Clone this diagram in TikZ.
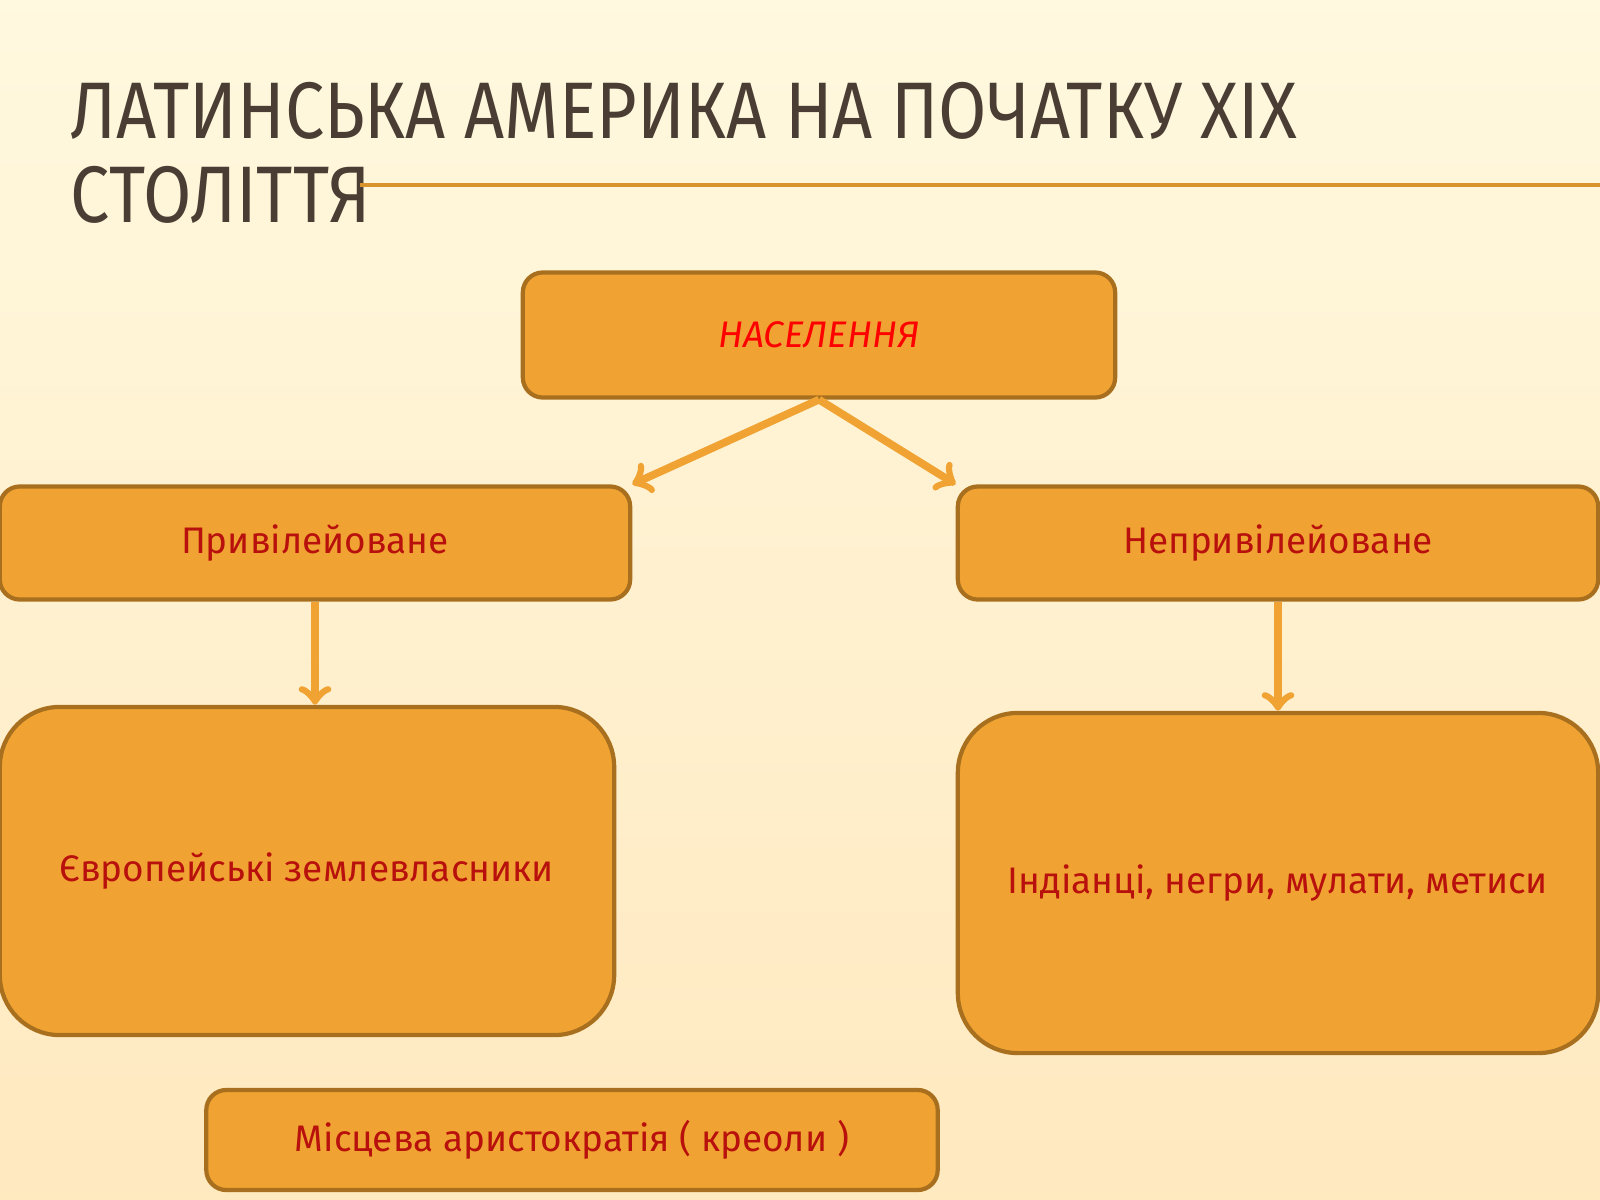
\documentclass[tikz,border=0pt]{standalone}
\usepackage{fontspec}
\setmainfont{Fira Sans}
\usetikzlibrary{positioning}
\definecolor{boxfill}{HTML}{F0A332}
\definecolor{boxedge}{HTML}{A8701E}
\definecolor{boxtext}{HTML}{B8100C}
\definecolor{titletext}{HTML}{4A3E34}
\tikzstyle{group} = [rectangle, rounded corners=0.2cm, fill=boxfill, draw=boxedge, line width=1.2pt, text centered, text=boxtext, font=\fontsize{10.5}{13}\selectfont]
\tikzstyle{bigbox} = [group, rounded corners=0.6cm]
\tikzstyle{heading} = [anchor=base west, text=titletext, font=\fontsize{24}{24}\selectfont, inner sep=0pt]
\begin{document}
\begin{tikzpicture}[x=0.01cm,y=-0.01cm]
	\shade[top color=yellow!8!white!95!orange, bottom color=yellow!30!orange!25!white] (0,0) rectangle (1600,1200);
	\useasboundingbox (0,0) rectangle (1600,1200);
	% title
	\node[heading] (title1) at (70,138) {\scalebox{0.83}[0.95]{ЛАТИНСЬКА АМЕРИКА НА ПОЧАТКУ XIX}};
	\node[heading] (title2) at (70,222) {\scalebox{0.83}[0.95]{СТОЛІТТЯ}};
	\coordinate (rulestart) at (360,185);
	\coordinate (ruleend) at (1600,185);
	\draw[boxfill!90!black, line width=1.2pt] (rulestart) -- (ruleend);

	\node[group, minimum width=5.92cm, minimum height=1.25cm, text=red, font=\fontsize{10.5}{13}\selectfont\itshape] (pop) at (819,335) {НАСЕЛЕННЯ};
	\node[group, minimum width=6.3cm, minimum height=1.13cm] (priv) at (315,543) {Привілейоване};
	\node[group, minimum width=6.4cm, minimum height=1.13cm] (nonpriv) at (1278,543) {Непривілейоване};
	\node[bigbox, minimum width=6.14cm, minimum height=3.28cm] (europ) at (307,871) {Європейські землевласники};
	\node[bigbox, minimum width=6.4cm, minimum height=3.4cm] (indian) at (1278,883) {Індіанці, негри, мулати, метиси};
	\node[group, minimum width=7.31cm, minimum height=1.0cm] (creole) at (572,1140) {Місцева аристократія ( креоли )};

	%arrow
	\draw[->, boxfill, line width=2.2pt] (pop.south) -- (priv.north east);
	\draw[->, boxfill, line width=2.2pt] (pop.south) -- (nonpriv.north west);
	\draw[->, boxfill, line width=2.2pt] (priv.south) -- (europ.north -| priv.south);
	\draw[->, boxfill, line width=2.2pt] (nonpriv.south) -- (indian.north -| nonpriv.south);
\end{tikzpicture}
\end{document}
